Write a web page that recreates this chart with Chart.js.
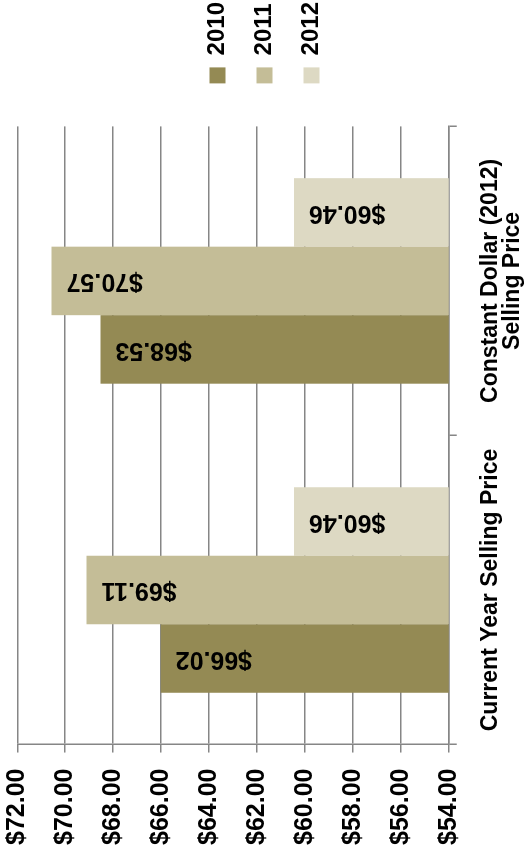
<!DOCTYPE html>
<html>
<head>
<meta charset="utf-8">
<script src="https://cdn.jsdelivr.net/npm/chart.js@4.4.0/dist/chart.umd.min.js"></script>
<style>
  html, body { margin: 0; padding: 0; background: #fff; overflow: hidden; }
  /* the chart is drawn upright and then turned a quarter turn to the left */
  #wrap {
    position: absolute; left: 0; top: 0;
    width: 853px; height: 531px;
    transform-origin: 0 0;
    transform: translateY(853px) rotate(-90deg);
  }
</style>
</head>
<body>
<div id="wrap"><canvas id="price" width="853" height="531"></canvas></div>
<script>
const categories = ['Current Year Selling Price', ['Constant Dollar (2012)', 'Selling Price']];
const years = ['2010', '2011', '2012'];
const values2010 = [66.02, 68.53];
const values2011 = [69.11, 70.57];
const values2012 = [60.46, 60.46];
const axisMin = 54;
const axisMax = 72;
const axisStep = 2;

const FONT = "'Liberation Sans', Arial, sans-serif";

// value labels inside the end of each bar, turned so they read upwards
const barLabels = {
    id: 'barLabels',
    afterDatasetsDraw(chart) {
        const ctx = chart.ctx;
        ctx.save();
        ctx.font = 'bold 25px ' + FONT;
        ctx.fillStyle = '#000';
        ctx.textAlign = 'right';
        ctx.textBaseline = 'middle';
        chart.data.datasets.forEach((ds, i) => {
            chart.getDatasetMeta(i).data.forEach((bar, j) => {
                ctx.save();
                ctx.translate(bar.x, bar.y + 15);
                ctx.rotate(-Math.PI / 2);
                ctx.fillText('$' + ds.data[j].toFixed(2), 0, 0);
                ctx.restore();
            });
        });
        ctx.restore();
    }
};

// move the legend block a little right and up
const legendShift = {
    id: 'legendShift',
    afterLayout(chart) {
        const lg = chart.legend;
        lg.left += 20;
        lg.right += 20;
        lg.top -= 10;
        lg.bottom -= 10;
    }
};

new Chart(document.getElementById('price'), {
    type: 'bar',
    data: {
        labels: categories,
        datasets: [
            { label: years[0], data: values2010, backgroundColor: '#948A54' },
            { label: years[1], data: values2011, backgroundColor: '#C4BD97' },
            { label: years[2], data: values2012, backgroundColor: '#DDD9C3' }
        ]
    },
    options: {
        responsive: false,
        animation: false,
        layout: { padding: { top: 2, left: -8, right: 12, bottom: -16 } },
        datasets: {
            bar: { barPercentage: 1, categoryPercentage: 0.665, borderWidth: 0 }
        },
        scales: {
            x: {
                grid: { drawOnChartArea: false, drawTicks: true, tickLength: 8, color: '#868686', lineWidth: 1.5 },
                border: { color: '#868686', width: 1.5 },
                ticks: {
                    autoSkip: false, maxRotation: 0, minRotation: 0, padding: 23,
                    color: '#000',
                    font: { family: FONT, size: 23, weight: 'bold', lineHeight: 0.96 }
                }
            },
            y: {
                min: axisMin, max: axisMax,
                grid: { color: '#868686', lineWidth: 1.5, tickLength: 8 },
                border: { color: '#868686', width: 1.5 },
                ticks: {
                    stepSize: axisStep, padding: 16, color: '#000',
                    // tiny line height so the end labels do not push the plot inwards
                    font: { family: FONT, size: 25, weight: 'bold', lineHeight: 0.1 },
                    callback: v => '$' + v.toFixed(2)
                }
            }
        },
        plugins: {
            legend: {
                position: 'right',
                labels: {
                    boxWidth: 16, boxHeight: 16, padding: 23, color: '#000',
                    font: { family: FONT, size: 24, weight: 'bold' }
                }
            },
            tooltip: { enabled: false }
        }
    },
    plugins: [barLabels, legendShift]
});
</script>
</body>
</html>
